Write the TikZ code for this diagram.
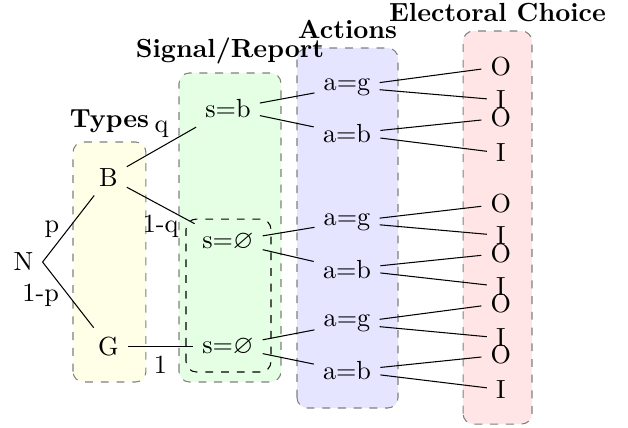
\documentclass[tikz,border=0pt]{standalone}
\usepackage{amssymb,amsmath}
\usepackage{xcolor}
\usepackage{tikz}
\usetikzlibrary{calc}

\begin{document}
\begin{tikzpicture}[
		zone/.style={draw=gray,dashed,rounded corners},
		title/.style={above,font=\bfseries},
	]
		\useasboundingbox (0,0) rectangle (8.424,5.728);
		
		% shaded columns
		\draw[zone,fill=yellow!10] (0.979,0.604) rectangle (1.958,3.823);
		\draw[zone,fill=green!10] (2.401,0.604) rectangle (3.769,4.749);
		\draw[zone,fill=blue!10] (3.984,0.255) rectangle (5.339,5.084);
		\draw[zone,fill=red!10] (6.211,0.040) rectangle (7.136,5.312);
		\draw[dashed,rounded corners] (2.495,0.738) rectangle (3.635,2.790);%same report
		
		\node[title] (TTypes) at (1.4685,3.823) {Types};
		\node[title] (TSignal) at (3.085,4.749) {Signal/Report};
		\node[title] (TActions) at (4.6615,5.084) {Actions};
		\node[title] (TChoice) at (6.6735,5.312) {Electoral Choice};
		
		% nature and types
		\node (N) at (0.315,2.213) {N};
		\node (B) at (1.453,3.350) {B};
		\node (G) at (1.453,1.080) {G};
		\draw (N.east) -- node[left]{p} (B);
		\draw (N.east) -- node[left]{1-p} (G);
		
		% reports
		\node (S1) at (3.058,4.267) {s=b};
		\node (S2) at (3.057,2.487) {s=$\varnothing$};
		\node (S3) at (3.057,1.080) {s=$\varnothing$};
		\draw (B) -- node[above]{q} (S1);
		\draw (B) -- node[below]{1-q} (S2);
		\draw (G) -- node[below]{1} (S3);
		
		% actions
		\node (A1) at (4.655,4.562) {a=g};
		\node (A2) at (4.655,3.932) {a=b};
		\node (A3) at (4.655,2.751) {a=g};
		\node (A4) at (4.655,2.117) {a=b};
		\node (A5) at (4.655,1.387) {a=g};
		\node (A6) at (4.655,0.753) {a=b};
		\draw (S1) -- (A1);
		\draw (S1) -- (A2);
		\draw (S2) -- (A3);
		\draw (S2) -- (A4);
		\draw (S3) -- (A5);
		\draw (S3) -- (A6);
		
		% voters
		\node (O1) at (6.718,4.836) {O};
		\node (I1) at (6.718,4.386) {I};
		\node (O2) at (6.718,4.145) {O};
		\node (I2) at (6.718,3.675) {I};
		\node (O3) at (6.718,2.991) {O};
		\node (I3) at (6.718,2.569) {I};
		\node (O4) at (6.718,2.330) {O};
		\node (I4) at (6.718,1.885) {I};
		\node (O5) at (6.718,1.659) {O};
		\node (I5) at (6.718,1.194) {I};
		\node (O6) at (6.718,0.966) {O};
		\node (I6) at (6.718,0.503) {I};
		\draw (A1) -- (O1);
		\draw (A1) -- (I1);
		\draw (A2) -- (O2);
		\draw (A2) -- (I2);
		\draw (A3) -- (O3);
		\draw (A3) -- (I3);
		\draw (A4) -- (O4);
		\draw (A4) -- (I4);
		\draw (A5) -- (O5);
		\draw (A5) -- (I5);
		\draw (A6) -- (O6);
		\draw (A6) -- (I6);
\end{tikzpicture}
\end{document}
